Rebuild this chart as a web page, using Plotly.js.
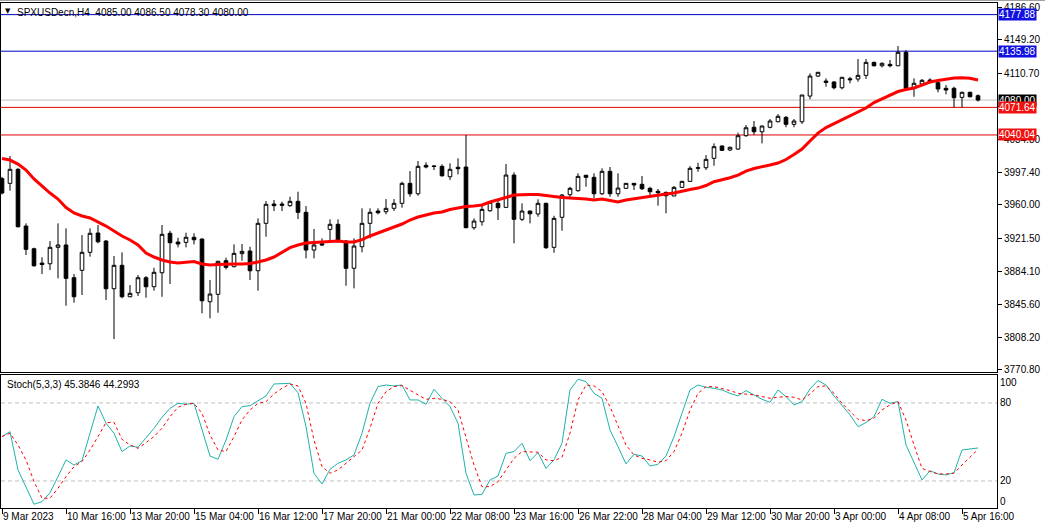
<!DOCTYPE html>
<html><head><meta charset="utf-8">
<script src="https://cdn.plot.ly/plotly-3.0.1.min.js"></script>
<style>html,body{margin:0;padding:0;background:#fff;overflow:hidden}#chart{width:1045px;height:528px}</style>
</head><body><div id="chart"></div>
<script>
// ---- data (SPXUSDecn, H4) ----
const openP = [3990.0,3984.6,4000.7,3935.7,3909.7,3893.3,3892.5,3911.3,3914.0,3876.5,
3885.0,3905.6,3927.7,3918.5,3863.9,3890.7,3854.7,3859.3,3876.5,3866.2,
3882.2,3927.4,3917.4,3917.0,3922.8,3920.8,3849.0,3857.5,3896.0,3889.1,
3904.0,3907.1,3884.5,3938.8,3960.9,3960.9,3959.0,3964.0,3951.4,3908.2,
3915.4,3931.9,3937.7,3918.5,3887.3,3912.0,3938.8,3952.9,3952.1,3956.0,
3961.7,3984.6,3972.7,4005.2,4004.5,4004.1,3992.2,4003.0,4003.3,3933.8,
3940.6,3953.2,3961.7,3957.1,3994.1,3943.4,3952.9,3949.5,3961.7,3911.3,
3945.7,3971.6,3976.2,3993.8,3991.5,3972.7,3998.4,3972.7,3978.9,3984.6,
3983.5,3978.9,3975.5,3974.3,3970.1,3980.0,3986.9,4001.8,4002.5,4013.3,
4027.4,4022.8,4023.9,4039.2,4048.8,4043.7,4048.8,4055.2,4060.2,4052.2,
4055.2,4084.6,4107.5,4101.8,4100.7,4094.1,4104.4,4104.1,4108.3,4123.2,
4119.3,4120.9,4119.3,4134.7,4093.5,4098.4,4103.0,4099.9,4093.5,4093.5,
4083.1,4088.9,4085.0];
const highP = [3992.0,4015.9,4002.0,3938.8,3910.9,3899.9,3918.5,3938.8,3933.1,3880.7,
3925.4,3933.1,3936.9,3919.7,3901.4,3905.6,3868.1,3879.6,3878.4,3887.9,
3936.9,3930.3,3922.3,3928.0,3927.4,3921.6,3873.9,3895.8,3899.4,3914.7,
3915.1,3912.0,3944.5,3964.4,3965.5,3963.6,3969.3,3975.0,3958.6,3932.3,
3921.6,3943.4,3943.4,3919.7,3921.6,3956.0,3956.0,3956.0,3966.6,3966.6,
3986.5,3998.7,4010.2,4008.7,4005.6,4006.4,4007.5,4013.3,4040.0,3944.5,
3959.8,3964.4,3966.6,4006.7,3997.2,3961.7,3953.2,3966.3,3962.5,3947.5,
3972.4,3980.7,3996.1,3994.5,3996.1,4001.8,4003.3,3996.1,3985.0,3985.0,
3993.0,3980.7,3978.1,3975.0,3981.5,3987.5,4004.4,4008.2,4017.0,4030.4,
4028.0,4026.6,4042.6,4051.4,4056.0,4050.8,4058.3,4064.0,4061.7,4058.3,
4085.8,4110.6,4112.0,4104.9,4101.8,4106.1,4106.7,4127.0,4127.0,4124.0,
4123.2,4125.9,4141.9,4137.3,4104.9,4104.1,4104.9,4102.2,4097.2,4095.3,
4089.6,4089.6,4086.5];
const lowP = [3972.0,3976.2,3934.0,3902.5,3889.1,3880.7,3885.3,3875.8,3844.4,3847.9,
3856.7,3900.6,3915.9,3850.9,3806.3,3852.9,3854.2,3855.5,3853.6,3861.6,
3854.7,3869.3,3911.3,3911.3,3914.7,3835.7,3830.0,3836.4,3886.1,3888.6,
3896.0,3873.9,3861.6,3923.5,3952.9,3952.9,3957.8,3943.7,3898.7,3898.7,
3913.1,3918.5,3917.0,3867.3,3864.3,3905.6,3921.6,3949.1,3949.1,3952.9,
3956.7,3969.3,3970.4,4001.8,3999.9,3992.2,3988.4,3994.9,3933.1,3931.5,
3936.1,3952.1,3942.6,3957.1,3915.9,3941.4,3938.8,3946.4,3909.4,3905.1,
3930.3,3968.6,3975.0,3980.7,3967.4,3971.2,3969.3,3969.3,3978.5,3977.0,
3977.0,3968.6,3959.0,3950.3,3970.1,3979.5,3986.5,3997.9,3999.9,4004.8,
4022.0,4021.6,4022.8,4038.0,4040.0,4030.4,4047.6,4054.5,4048.8,4048.8,
4052.6,4080.9,4106.4,4095.3,4092.3,4092.3,4099.2,4101.0,4104.1,4118.5,
4117.5,4117.5,4119.0,4093.2,4083.8,4097.2,4099.2,4088.9,4086.6,4071.6,
4071.6,4083.1,4078.3];
const closeP = [3973.5,4000.7,3934.9,3909.0,3890.2,3891.6,3911.3,3914.0,3875.8,3854.7,
3905.6,3927.4,3917.7,3863.9,3890.7,3854.7,3858.6,3876.5,3866.2,3882.7,
3926.2,3916.6,3915.1,3922.8,3920.0,3850.1,3857.8,3895.3,3888.4,3904.4,
3906.7,3884.5,3938.8,3960.6,3959.0,3959.6,3964.0,3951.4,3908.2,3914.0,
3914.0,3937.7,3917.7,3887.3,3912.8,3938.8,3951.4,3951.0,3956.0,3961.7,
3984.6,3972.7,4004.1,4003.3,4004.0,3993.3,4000.7,4001.4,3933.8,3941.4,
3954.8,3962.9,3956.7,3994.1,3943.4,3952.9,3949.8,3961.7,3910.9,3944.5,
3971.2,3978.9,3992.6,3991.5,3972.7,3998.4,3972.7,3979.2,3984.6,3982.7,
3978.4,3975.0,3973.9,3970.4,3980.0,3986.9,4001.8,4002.5,4012.1,4026.6,
4022.4,4025.9,4039.2,4048.3,4043.7,4050.3,4056.0,4061.4,4052.2,4056.0,
4085.8,4107.5,4111.8,4100.3,4094.1,4106.1,4103.3,4108.3,4123.2,4119.3,
4122.1,4119.3,4134.7,4093.5,4099.2,4102.6,4100.3,4092.7,4091.5,4082.7,
4088.9,4083.8,4080.0];
const maLine = [4013.0,4011.3,4006.7,3999.9,3989.6,3981.5,3973.5,3966.6,3956.9,3950.6,
3947.2,3944.9,3940.3,3935.7,3930.0,3924.3,3919.7,3914.0,3904.8,3900.2,
3896.8,3894.5,3893.3,3893.9,3895.0,3892.2,3891.0,3891.6,3892.2,3892.2,
3892.2,3892.8,3894.5,3896.8,3900.2,3906.0,3910.9,3914.0,3916.2,3916.8,
3917.0,3918.0,3918.5,3917.4,3917.4,3920.2,3924.3,3927.7,3930.6,3934.0,
3938.0,3942.6,3946.0,3948.3,3950.6,3951.8,3954.6,3956.3,3958.1,3958.6,
3959.8,3963.2,3965.5,3968.4,3971.2,3971.8,3971.8,3971.8,3970.4,3969.5,
3968.4,3967.8,3967.5,3966.6,3965.5,3966.6,3964.9,3963.2,3965.5,3967.0,
3968.4,3969.5,3970.7,3972.4,3973.5,3975.8,3977.5,3979.2,3982.1,3986.5,
3988.4,3991.0,3994.1,3998.7,4001.6,4003.3,4005.6,4007.9,4011.9,4017.6,
4023.9,4033.1,4042.2,4048.5,4053.1,4057.7,4061.7,4066.3,4070.9,4077.2,
4081.2,4085.8,4089.8,4092.1,4093.8,4097.2,4100.7,4102.4,4104.1,4105.3,
4105.6,4104.9,4103.0];
const stochMain = [54.1,57.9,28.5,15.6,2.1,4.1,11.0,23.3,36.2,32.3,
35.6,56.7,77.7,64.4,56.7,42.6,46.9,45.9,52.8,60.5,
69.0,75.9,79.7,79.0,79.7,59.2,39.2,36.7,51.5,69.5,
77.2,77.9,81.8,85.4,94.6,95.1,95.1,87.9,61.8,25.9,
17.7,29.0,33.6,36.2,40.0,56.7,79.7,92.6,93.8,93.1,
93.8,82.3,82.3,79.0,90.5,83.6,77.2,64.4,25.9,9.2,
9.7,20.8,23.8,41.3,42.6,49.0,35.6,41.8,29.7,36.2,
49.0,90.0,98.2,96.4,87.4,83.6,59.2,46.4,33.1,40.5,
39.2,31.5,32.8,39.2,54.1,72.1,90.0,93.8,92.0,91.3,
90.0,87.4,85.4,89.5,86.2,82.8,80.5,90.0,84.9,78.5,
81.0,90.8,97.2,93.8,85.4,78.5,70.8,61.8,64.9,69.5,
82.8,79.7,81.0,47.7,33.6,20.8,27.9,25.4,24.6,26.4,
43.8,44.6,45.3846];
const stochSignal = [54.1,56.7,47.7,36.2,19.5,6.7,6.7,14.4,23.3,31.0,
34.9,43.8,54.1,64.9,65.1,52.0,47.7,45.1,49.5,54.1,
60.5,69.5,76.7,79.0,79.7,72.1,55.4,43.8,42.6,54.1,
66.9,74.6,79.7,81.0,86.9,91.3,94.6,93.1,79.7,51.5,
31.0,25.9,28.5,33.6,38.2,43.8,60.5,79.7,88.7,92.6,
93.3,89.5,86.2,82.8,83.6,82.8,81.0,74.6,54.1,32.3,
15.6,15.6,19.5,28.5,37.4,42.6,42.1,42.1,36.2,35.6,
38.2,56.7,82.3,93.8,93.1,88.7,77.2,61.8,47.7,40.0,
37.4,36.2,34.4,35.6,42.6,56.7,74.6,87.4,92.6,92.6,
91.3,89.5,87.4,86.9,86.2,84.9,83.6,84.4,84.9,84.4,
82.3,86.9,92.6,93.1,87.4,79.7,73.3,67.4,66.4,68.2,
74.6,78.5,81.0,66.9,47.7,29.7,27.2,25.4,25.4,25.9,
32.3,38.7,44.2993];
const timeTickIdx = [0,8,16,24,32,40,48,56,64,72,80,88,96,104,112,120];
const timeTickLabels = ['9 Mar 2023','10 Mar 16:00','13 Mar 20:00','15 Mar 04:00','16 Mar 12:00',
 '17 Mar 20:00','21 Mar 00:00','22 Mar 08:00','23 Mar 16:00','26 Mar 22:00','28 Mar 04:00',
 '29 Mar 12:00','30 Mar 20:00','3 Apr 00:00','4 Apr 08:00','5 Apr 16:00'];
// 4072.30 is fully hidden behind the price boxes in the reference, so its label is left blank
const priceTicks = [4186.60,4149.20,4110.70,4072.30,4034.80,3997.40,3960.00,3921.50,3884.10,3845.60,3808.20,3770.80];
const hiddenPriceTicks = [4072.30];
const priceLevels = [4177.88,4135.98,4080.00,4071.64,4040.04];
const stochLevels = [80,20];
const stochTickVals = [100,80,20,0];
const symbolTitle = 'SPXUSDecn,H4  4085.00 4086.50 4078.30 4080.00';
const stochTitle = 'Stoch(5,3,3) 45.3846 44.2993';

// ---- styles ----
const levelStyle = [
  {line:'#0000C8', bg:'#1010E0'},
  {line:'#0000C8', bg:'#1010E0'},
  {line:'#C0C0C0', bg:'#000000'},
  {line:'#E00000', bg:'#F01010'},
  {line:'#E00000', bg:'#F01010'}
];
const FONT = 'Liberation Sans, Arial, sans-serif';
const idx = openP.map((_, i) => i);
const H = 528, B = 20, T = 3;
const ph = H - B - T;
const py = p => (H - B - p) / ph; // pixel y -> paper
const xr = [-0.125, 124.375];

const traces = [
  {type:'scatter', mode:'lines', x: idx, y: maLine, line:{color:'#FF0000', width:3}, xaxis:'x', yaxis:'y', hoverinfo:'skip', showlegend:false},
  {type:'candlestick', x: idx, open: openP, high: highP, low: lowP, close: closeP,
   increasing:{line:{color:'#000000', width:1}, fillcolor:'#FFFFFF'},
   decreasing:{line:{color:'#000000', width:1}, fillcolor:'#000000'},
   whiskerwidth:0, xaxis:'x', yaxis:'y', hoverinfo:'skip', showlegend:false},
  {type:'scatter', mode:'lines', x: idx, y: stochMain, line:{color:'#20B2AA', width:1}, xaxis:'x2', yaxis:'y2', hoverinfo:'skip', showlegend:false},
  {type:'scatter', mode:'lines', x: idx, y: stochSignal, line:{color:'#FF0000', width:1, dash:'3px,3px'}, xaxis:'x2', yaxis:'y2', hoverinfo:'skip', showlegend:false}
];

const shapes = [];
priceLevels.forEach((v, i) => {
  shapes.push({type:'line', xref:'x domain', x0:0, x1:1, yref:'y', y0:v, y1:v, line:{color:levelStyle[i].line, width:1}, layer:'below'});
});
stochLevels.forEach(v => {
  shapes.push({type:'line', xref:'x2 domain', x0:0, x1:1, yref:'y2', y0:v, y1:v, line:{color:'#C0C0C0', width:1, dash:'4px,3px'}, layer:'below'});
});
shapes.push({type:'line', xref:'paper', x0:-0.01, x1:1.06, yref:'paper', y0:py(0.5), y1:py(0.5), line:{color:'#A0A0A0', width:1}});

const annotations = [];
timeTickIdx.forEach((k, i) => {
  annotations.push({xref:'x2', x:k, yref:'paper', y:0, yanchor:'top', xanchor:'left', yshift:-1, xshift:-1,
    text:timeTickLabels[i], showarrow:false, font:{family:FONT, size:10, color:'#000'}});
});
priceLevels.forEach((v, i) => {
  annotations.push({xref:'paper', x:1, xanchor:'left', xshift:1, yref:'y', y:v, yanchor:'middle',
    text:v.toFixed(2), showarrow:false, bgcolor:levelStyle[i].bg, borderpad:0,
    font:{family:FONT, size:10, color:'#FFFFFF'}});
});
annotations.push({xref:'paper', x:(8-1)/996, xanchor:'center', yref:'paper', y:py(11), yanchor:'middle',
  text:'▼', showarrow:false, font:{family:'DejaVu Sans', size:7, color:'#000'}});
annotations.push({xref:'paper', x:(15-1)/996, xanchor:'left', yref:'paper', y:py(12), yanchor:'middle',
  text:symbolTitle, showarrow:false, font:{family:FONT, size:10, color:'#000'}});
annotations.push({xref:'paper', x:(5-1)/996, xanchor:'left', yref:'paper', y:py(384), yanchor:'middle',
  text:stochTitle, showarrow:false, font:{family:FONT, size:10, color:'#000'}});

const axisBase = {showgrid:false, zeroline:false, showline:true, mirror:true, linecolor:'#000', linewidth:1, automargin:false, fixedrange:true};
const layout = {
  width:1045, height:528,
  margin:{l:1, r:48, t:T, b:B, pad:0},
  paper_bgcolor:'#FFFFFF', plot_bgcolor:'#FFFFFF',
  showlegend:false, boxgap:0.35,
  font:{family:FONT, size:10, color:'#000'},
  xaxis: Object.assign({}, axisBase, {domain:[0,1], anchor:'y', range:xr, showticklabels:false, ticks:'', rangeslider:{visible:false}}),
  yaxis: Object.assign({}, axisBase, {domain:[py(372), 1], anchor:'x', side:'right', range:[3768.5, 4191.2],
    tickvals:priceTicks, ticktext:priceTicks.map(v => hiddenPriceTicks.includes(v) ? '' : v.toFixed(2)),
    ticks:'outside', ticklen:4, tickcolor:'#000',
    tickfont:{family:FONT, size:10, color:'#000'}}),
  xaxis2: Object.assign({}, axisBase, {domain:[0,1], anchor:'y2', range:xr, showticklabels:false,
    tickvals:timeTickIdx, ticks:'outside', ticklen:5, tickcolor:'#000'}),
  yaxis2: Object.assign({}, axisBase, {domain:[0, py(375)], anchor:'x2', side:'right', range:[-0.8, 101.5],
    tickvals:[95.6, 80, 20, 4], ticktext:stochTickVals.map(String), ticks:'',
    tickfont:{family:FONT, size:10, color:'#000'}}),
  shapes: shapes,
  annotations: annotations
};
Plotly.newPlot('chart', traces, layout, {staticPlot:true, displayModeBar:false});
</script>
</body></html>
